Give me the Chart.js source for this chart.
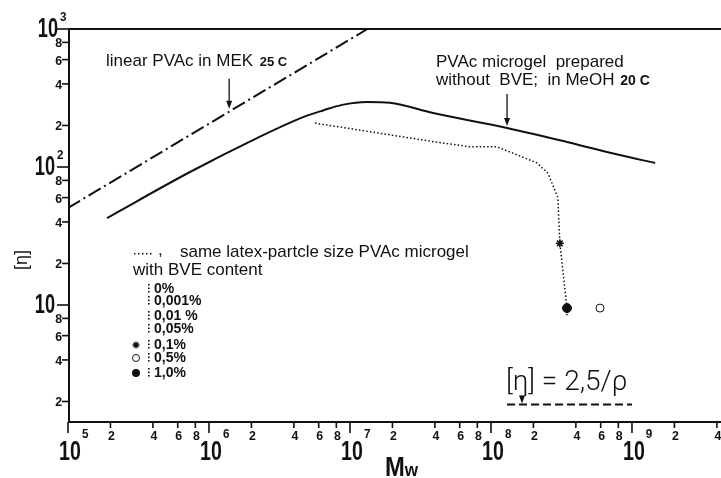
<!DOCTYPE html>
<html><head><meta charset="utf-8">
<script src="https://cdn.jsdelivr.net/npm/chart.js@4/dist/chart.umd.min.js"></script>
<style>html,body{margin:0;padding:0;background:#fff;overflow:hidden}</style>
</head><body><canvas id="c" width="721" height="478"></canvas>
<script>
// ---- data (x = Mw, y = [eta]) ----
const linearMW = [1e5, 1.33e7];
const linearEta = [50.5, 1000];
const microgelMW = [1.89e5, 7.33e5, 2.19e6, 4.65e6, 6.44e6, 8.8e6, 1.32e7, 1.92e7, 3.88e7, 1.3e8, 3.46e8, 8.2e8, 1.46e9];
const microgelEta = [42.7, 92, 162, 230, 257, 282, 296, 292, 246, 192, 152, 122, 107];
const bveMW = [5.65e6, 3.69e7, 7.1e7, 1.1e8, 1.43e8, 2.12e8, 2.54e8, 2.98e8, 3.08e8, 3.46e8, 3.46e8];
const bveEta = [208, 154, 140, 140, 126, 107, 90, 60, 28, 9.5, 8.3];
const starMW = [3.08e8], starEta = [28];
const filledMW = [3.46e8], filledEta = [9.5];
const openMW = [5.93e8], openEta = [9.5];
const limitMW = [1.3e8, 1e9], limitEta = [1.9, 1.9];
// annotation anchors (arrow tips)
const arrowMW = [1.39e6, 1.3e8, 1.66e8];
const arrowEta = [251, 192, 1.9];
// legend
const bveLegendLabels = ['0%', '0,001%', '0,01 %', '0,05%', '0,1%', '0,5%', '1,0%'];
const bveLegendMarkers = ['dots', 'dots', 'dots', 'dots', 'star', 'open', 'filled'];
// ticks
const xMajorExp = [5, 6, 7, 8, 9];
const yMajorExp = [1, 2, 3];
const minorMultipliers = [2, 4, 6, 8];
const minorLabels = ['2', '4', '6', '8'];
const xRange = [1e5, 4.28e9];
const yRange = [1.42, 1000];

const pts = (xs, ys) => xs.map((v, i) => ({x: v, y: ys[i]}));
const INK = '#111';
const SANS = '"Liberation Sans", Arial, sans-serif';

// condensed text: draw with horizontal scale, returns drawn width
function ctext(ctx, s, x, y, font, align, sx) {
  ctx.save();
  ctx.font = font; ctx.textAlign = align; ctx.textBaseline = 'alphabetic';
  const w = ctx.measureText(s).width * sx;
  ctx.translate(x, y); ctx.scale(sx, 1);
  ctx.fillText(s, 0, 0);
  ctx.restore();
  return w;
}

function arrow(ctx, x, yTip, len) {
  ctx.beginPath(); ctx.moveTo(x, yTip - len); ctx.lineTo(x, yTip - 4); ctx.stroke();
  ctx.beginPath(); ctx.moveTo(x, yTip); ctx.lineTo(x - 3, yTip - 8); ctx.lineTo(x + 3, yTip - 8); ctx.closePath(); ctx.fill();
}

const deco = {
  id: 'deco',
  afterDraw(chart) {
    const {ctx, chartArea: a, scales: {x, y}} = chart;
    ctx.save();
    ctx.strokeStyle = INK; ctx.fillStyle = INK;
    // frame
    ctx.lineWidth = 2;
    ctx.beginPath(); ctx.moveTo(a.left, a.top); ctx.lineTo(a.right, a.top); ctx.stroke();
    ctx.beginPath(); ctx.moveTo(a.left + 1, a.top); ctx.lineTo(a.left + 1, a.bottom); ctx.stroke();
    ctx.beginPath(); ctx.moveTo(a.left, a.bottom); ctx.lineTo(a.right, a.bottom); ctx.stroke();

    // x ticks
    ctx.lineWidth = 1.6;
    xMajorExp.forEach(e => {
      const px = x.getPixelForValue(Math.pow(10, e));
      ctx.beginPath(); ctx.moveTo(px, a.bottom); ctx.lineTo(px, a.bottom + 11); ctx.stroke();
      const w = ctext(ctx, '10', px + 2, a.bottom + 38, 'bold 28px ' + SANS, 'center', 0.7);
      ctext(ctx, String(e), px + 2 + w / 2 + 1, a.bottom + 16, 'bold 13px ' + SANS, 'left', 0.9);
      minorMultipliers.forEach((m, i) => {
        const v = m * Math.pow(10, e);
        if (v > xRange[1]) return;
        const mx = x.getPixelForValue(v);
        ctx.beginPath(); ctx.moveTo(mx, a.bottom); ctx.lineTo(mx, a.bottom + 6); ctx.stroke();
        ctext(ctx, minorLabels[i], mx + 1, a.bottom + 18, 'bold 13px ' + SANS, 'center', 0.95);
      });
    });
    // y ticks
    [0, 1, 2].forEach(e => {
      minorMultipliers.forEach((m, i) => {
        const v = m * Math.pow(10, e);
        if (v < yRange[0]) return;
        const py = y.getPixelForValue(v);
        ctx.beginPath(); ctx.moveTo(a.left - 6, py); ctx.lineTo(a.left, py); ctx.stroke();
        ctext(ctx, minorLabels[i], a.left - 6, py + 5, 'bold 13px ' + SANS, 'right', 0.95);
      });
    });
    yMajorExp.forEach(e => {
      const py = y.getPixelForValue(Math.pow(10, e));
      ctx.beginPath(); ctx.moveTo(a.left - 11, py); ctx.lineTo(a.left, py); ctx.stroke();
      const right = e === 3 ? a.left - 10 : a.left - 13;
      ctext(ctx, '10', right, py + 8, 'bold 28px ' + SANS, 'right', 0.65);
      if (e > 1) ctext(ctx, String(e), right + 2, py - 8, 'bold 13px ' + SANS, 'left', 0.9);
    });

    // axis titles
    const mw = ctext(ctx, 'M', 385, 476, 'bold 28px ' + SANS, 'left', 0.85);
    ctext(ctx, 'w', 385 + mw, 476, 'bold 19px ' + SANS, 'left', 0.9);
    ctx.save();
    ctx.translate(22, 260); ctx.rotate(-Math.PI / 2);
    ctx.font = '18px ' + SANS; ctx.textAlign = 'center'; ctx.textBaseline = 'middle';
    ctx.fillText('[η]', 0, 0);
    ctx.restore();

    // annotations
    ctx.textAlign = 'left'; ctx.textBaseline = 'alphabetic';
    ctx.font = '17px ' + SANS;
    ctx.fillText('linear PVAc in MEK', 106, 66);
    const w1 = ctx.measureText('linear PVAc in MEK ').width;
    ctx.font = 'bold 13px ' + SANS;
    ctx.fillText('25 C', 106 + w1 + 2, 66);
    ctx.font = '17px ' + SANS;
    ctx.fillText('PVAc microgel  prepared', 436, 67);
    ctx.fillText('without  BVE;  in MeOH', 436, 85);
    const w2 = ctx.measureText('without  BVE;  in MeOH ').width;
    ctx.font = 'bold 14px ' + SANS;
    ctx.fillText('20 C', 436 + w2 + 1, 85);

    ctx.lineWidth = 1.3;
    const tips = arrowMW.map((m, i) => [x.getPixelForValue(m), y.getPixelForValue(arrowEta[i])]);
    arrow(ctx, tips[0][0], tips[0][1] - 3, 30);
    arrow(ctx, tips[1][0], tips[1][1] - 2, 32);
    arrow(ctx, tips[2][0], tips[2][1] - 1, 8);

    // legend
    ctx.font = '17px ' + SANS;
    ctx.fillText('same latex-partcle size PVAc microgel', 180, 257);
    ctx.fillText('with BVE content', 133, 275);
    for (let i = 0; i < 5; i++) { ctx.fillRect(134 + i * 4, 253, 1.5, 1.5); }
    ctx.fillText(',', 158, 255);
    const lb = [293, 305, 320, 333, 349, 362, 377];
    bveLegendLabels.forEach((t, i) => {
      const by = lb[i];
      for (let k = 0; k < 3; k++) ctx.fillRect(148, by - 9 + k * 3.5, 1.6, 1.6);
      ctx.font = 'bold 14px ' + SANS;
      ctx.fillText(t, 154, by);
      const mk = bveLegendMarkers[i];
      const cy = by - 4;
      if (mk === 'star') {
        Chart.helpers.drawPoint(ctx, {pointStyle: 'star', radius: 3.5, borderWidth: 1.4}, 136, cy);
      } else if (mk === 'open') {
        ctx.beginPath(); ctx.arc(136, cy, 3.5, 0, Math.PI * 2); ctx.lineWidth = 1; ctx.stroke();
      } else if (mk === 'filled') {
        ctx.beginPath(); ctx.arc(136, cy, 4, 0, Math.PI * 2); ctx.fill();
      }
    });

    // equation
    ctx.font = '300 28px Roboto, "DejaVu Sans", sans-serif';
    ctx.fillText('[η] = 2,5/ρ', 506, 390);
    ctx.restore();
  }
};

new Chart(document.getElementById('c'), {
  type: 'line',
  data: {
    datasets: [
      {data: pts(linearMW, linearEta), borderColor: INK, borderWidth: 2, borderDash: [14, 4, 2, 4], pointRadius: 0},
      {data: pts(microgelMW, microgelEta), borderColor: INK, borderWidth: 2, pointRadius: 0, cubicInterpolationMode: 'monotone'},
      {data: pts(bveMW, bveEta), borderColor: INK, borderWidth: 1.5, borderDash: [1.5, 2.2], pointRadius: 0},
      {data: pts(starMW, starEta), showLine: false, pointStyle: 'star', pointRadius: 4, borderColor: INK, pointBorderWidth: 1.5},
      {data: pts(filledMW, filledEta), showLine: false, pointStyle: 'circle', pointRadius: 4.5, backgroundColor: INK, borderColor: INK},
      {data: pts(openMW, openEta), showLine: false, pointStyle: 'circle', pointRadius: 4, backgroundColor: '#fff', borderColor: INK, pointBorderWidth: 1},
      {data: pts(limitMW, limitEta), borderColor: INK, borderWidth: 2, borderDash: [8, 4], pointRadius: 0}
    ]
  },
  options: {
    responsive: false, animation: false, events: [],
    layout: {autoPadding: false, padding: {top: 29, right: 0, left: 0, bottom: 0}},
    plugins: {legend: {display: false}, title: {display: false}, tooltip: {enabled: false}},
    scales: {
      x: {type: 'logarithmic', min: xRange[0], max: xRange[1], ticks: {display: false}, grid: {display: false}, border: {display: false},
          afterFit: s => { s.height = 56; }},
      y: {type: 'logarithmic', min: yRange[0], max: yRange[1], ticks: {display: false}, grid: {display: false}, border: {display: false},
          afterFit: s => { s.width = 68; }}
    }
  },
  plugins: [deco]
});
</script>
</body></html>
